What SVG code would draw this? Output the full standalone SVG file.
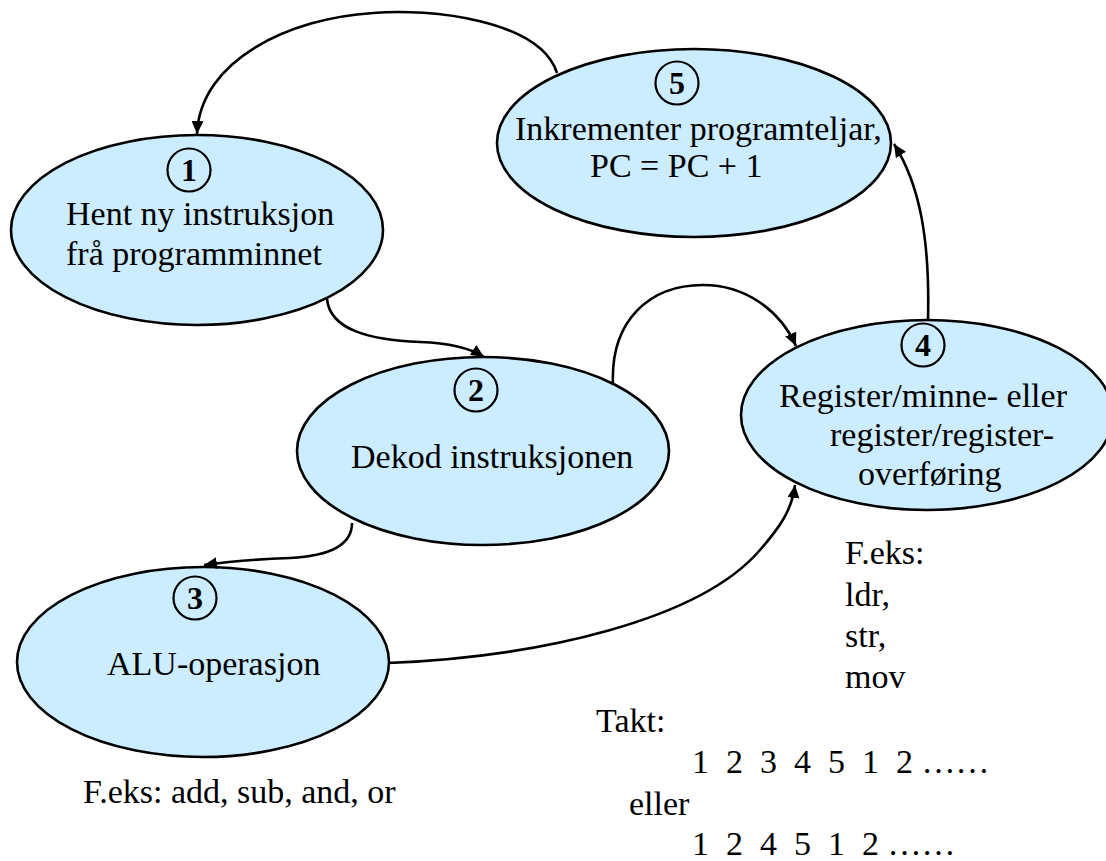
<svg xmlns="http://www.w3.org/2000/svg" width="1106" height="861" viewBox="0 0 1106 861">
  <style>
    .state { fill: #CCECFF; stroke: #000; stroke-width: 2.6; }
    .badge { fill: none; stroke: #000; stroke-width: 2.2; }
    .num { font-family: "Liberation Serif", "Times New Roman", serif; font-size: 32px; font-weight: bold; text-anchor: middle; fill: #000; }
    .lbl { font-family: "Liberation Serif", "Times New Roman", serif; font-size: 34px; fill: #000; white-space: pre; }
    .edge { fill: none; stroke: #000; stroke-width: 2.6; marker-end: url(#arrow); }
  </style>
  <defs>
    <marker id="arrow" markerUnits="userSpaceOnUse" markerWidth="14" markerHeight="12" refX="13" refY="6" orient="auto">
      <path d="M0,0 L13,6 L0,12 z" fill="#000"/>
    </marker>
  </defs>
  <rect width="1106" height="861" fill="#fff"/>

  <!-- state 1: fetch -->
  <g id="node1">
    <ellipse class="state" cx="197" cy="230" rx="186" ry="95"/>
    <circle class="badge" cx="189" cy="170" r="21.5"/>
    <text class="num" x="189" y="181">1</text>
    <text class="lbl" x="66" y="225">Hent ny instruksjon</text>
    <text class="lbl" x="66" y="265">frå programminnet</text>
  </g>

  <!-- state 2: decode -->
  <g id="node2">
    <ellipse class="state" cx="483" cy="451" rx="186" ry="94"/>
    <circle class="badge" cx="476" cy="390" r="21.5"/>
    <text class="num" x="476" y="401">2</text>
    <text class="lbl" x="351" y="468">Dekod instruksjonen</text>
  </g>

  <!-- state 3: ALU -->
  <g id="node3">
    <ellipse class="state" cx="203" cy="662" rx="186" ry="95"/>
    <circle class="badge" cx="195" cy="598" r="21.5"/>
    <text class="num" x="195" y="609">3</text>
    <text class="lbl" x="107" y="675">ALU-operasjon</text>
  </g>

  <!-- state 4: register / memory transfer -->
  <g id="node4">
    <ellipse class="state" cx="927" cy="415" rx="186" ry="95"/>
    <circle class="badge" cx="923" cy="345" r="21.5"/>
    <text class="num" x="923" y="356">4</text>
    <text class="lbl" x="779" y="407">Register/minne- eller</text>
    <text class="lbl" x="830" y="446">register/register-</text>
    <text class="lbl" x="858" y="485">overføring</text>
  </g>

  <!-- state 5: increment PC -->
  <g id="node5">
    <ellipse class="state" cx="694" cy="143" rx="197" ry="94"/>
    <circle class="badge" cx="677" cy="83" r="21.5"/>
    <text class="num" x="677" y="94">5</text>
    <text class="lbl" x="515" y="140">Inkrementer programteljar,</text>
    <text class="lbl" x="590" y="177">PC = PC + 1</text>
  </g>

  <!-- transitions -->
  <g id="connectors">
    <path class="edge" d="M557,73 C540,20 430,8 373,13 C290,18 200,60 197,134"/>
    <path class="edge" d="M327,299 C330,330 370,340 420,342 C450,343 470,348 484,357"/>
    <path class="edge" d="M352,523 C352,545 330,556 290,558 C260,559 225,562 204,565"/>
    <path class="edge" d="M613,385 C610,320 650,285 703,285 C745,285 780,310 796,346"/>
    <path class="edge" d="M388,663 C540,657 700,620 760,550 C780,527 792,510 795,485"/>
    <path class="edge" d="M928,320 C930,240 920,185 894,144"/>
  </g>

  <!-- notes -->
  <g id="notes">
    <text class="lbl" x="83" y="803">F.eks: add, sub, and, or</text>
    <text class="lbl" x="845" y="564">F.eks:</text>
    <text class="lbl" x="845" y="606">ldr,</text>
    <text class="lbl" x="845" y="647">str,</text>
    <text class="lbl" x="845" y="688">mov</text>
    <text class="lbl" x="596" y="732">Takt:</text>
    <text class="lbl" x="692" y="773">1  2  3  4  5  1  2 ……</text>
    <text class="lbl" x="629" y="815">eller</text>
    <text class="lbl" x="692" y="855">1  2  4  5  1  2 ……</text>
  </g>
</svg>
